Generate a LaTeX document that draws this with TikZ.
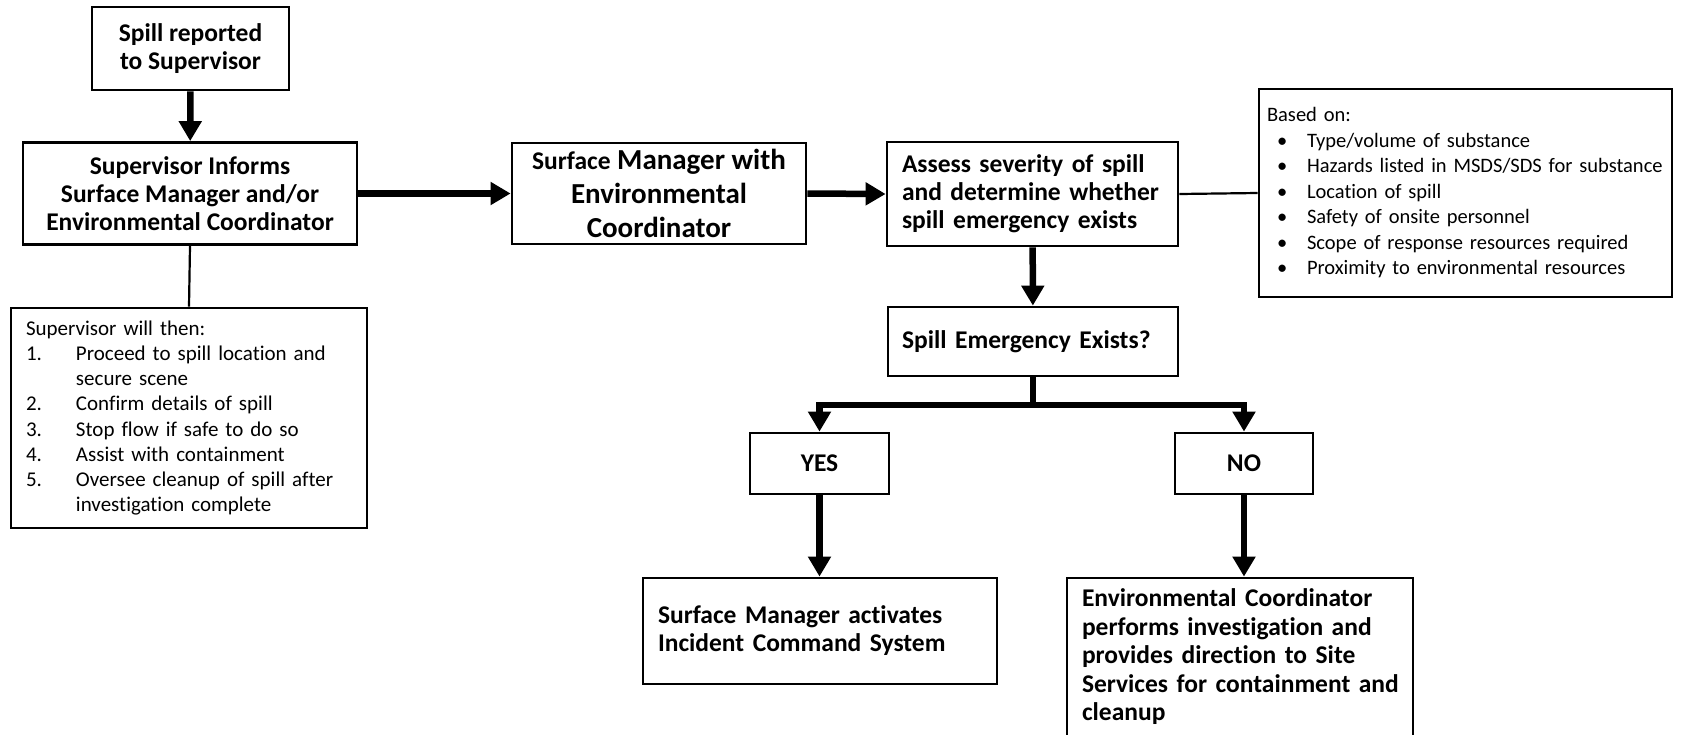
\documentclass[tikz,border=0pt]{standalone}
\usepackage{fontspec}
\setmainfont{Carlito}[Ligatures=NoCommon]
\usetikzlibrary{arrows.meta}

\begin{document}
\begin{tikzpicture}[x=1pt,y=-1pt]
	\tikzstyle{box}=[rectangle,draw=black,line width=2.8pt,inner sep=0pt,font=\fontsize{25.5}{28}\selectfont\bfseries]
	\tikzstyle{leftbox}=[box,align=left,inner xsep=15pt]
	\tikzstyle{notebox}=[leftbox,font=\fontsize{21}{25.1}\selectfont]
	\tikzstyle{flow}=[line width=6.5pt,-{Triangle[length=20pt,width=22pt]}]
	\tikzstyle{link}=[line width=2.2pt]
	\clip (0,0) rectangle (1703,734);
	\node[box,align=center,minimum width=197pt,minimum height=83pt](spill) at (190.5,48.5) {Spill reported\\to Supervisor};
	\node[box,align=center,minimum width=334pt,minimum height=102pt](inform) at (190,193.5) {Supervisor Informs\\Surface Manager and/or\\Environmental Coordinator};
	\node[box,align=center,minimum width=294pt,minimum height=101pt,font=\fontsize{29}{34}\selectfont\bfseries](surfenv) at (659,193.5) {{\fontsize{25.5}{34}\selectfont Surface} Manager with\\Environmental\\Coordinator};
	\node[leftbox,text width=261pt,minimum height=104pt](assess) at (1032.5,194) {Assess severity of spill\\and determine whether\\spill emergency exists};
	\node[notebox,font=\fontsize{20.5}{25.5}\selectfont,inner xsep=8pt,text width=397pt,minimum height=208pt](based) at (1465.5,193) {Based on:\\
		\hspace*{10pt}\makebox[30pt][l]{\textbullet}Type/volume of substance\\
		\hspace*{10pt}\makebox[30pt][l]{\textbullet}Hazards listed in MSDS/SDS for substance\\
		\hspace*{10pt}\makebox[30pt][l]{\textbullet}Location of spill\\
		\hspace*{10pt}\makebox[30pt][l]{\textbullet}Safety of onsite personnel\\
		\hspace*{10pt}\makebox[30pt][l]{\textbullet}Scope of response resources required\\
		\hspace*{10pt}\makebox[30pt][l]{\textbullet}Proximity to environmental resources};
	\node[leftbox,inner xsep=14pt,text width=262pt,minimum height=69pt](emerg) at (1033,341.5) {Spill Emergency Exists?};
	\node[box,minimum width=139pt,minimum height=61pt](yes) at (819.5,463.5) {YES};
	\node[box,minimum width=138pt,minimum height=61pt](no) at (1244,463.5) {NO};
	\node[leftbox,text width=324pt,minimum height=106pt](ics) at (820,631) {Surface Manager activates\\Incident Command System};
	\node[leftbox,text width=316pt,minimum height=158pt,font=\fontsize{25.5}{28.5}\selectfont\bfseries](envcoord) at (1240,657) {Environmental Coordinator\\\mbox{performs investigation and}\\provides direction to Site\\\mbox{Services for containment and}\\cleanup};
	\node[notebox,text width=326pt,minimum height=220pt](supnote) at (189,418) {Supervisor will then:\\
		\makebox[50pt][l]{1.}Proceed to spill location and\\
		\hspace*{50pt}secure scene\\
		\makebox[50pt][l]{2.}Confirm details of spill\\
		\makebox[50pt][l]{3.}Stop flow if safe to do so\\
		\makebox[50pt][l]{4.}Assist with containment\\
		\makebox[50pt][l]{5.}Oversee cleanup of spill after\\
		\hspace*{50pt}investigation complete};
	\coordinate (split) at (1033,405);
	\draw[flow] (spill) -- (inform);
	\draw[flow] (inform.east) -- (surfenv.west);
	\draw[flow] (surfenv.east) -- (assess.west);
	\draw[flow] (assess) -- (emerg);
	\draw[line width=6.5pt] (emerg.south) -- (split);
	\draw[flow] (split) -| (yes.north);
	\draw[flow] (split) -| (no.north);
	\draw[flow] (yes.south) -- (yes.south |- ics.north);
	\draw[flow] (no.south) -- (no.south |- envcoord.north);
	\draw[link] (assess.east) -- (based.west);
	\draw[link] (inform.south) -- (supnote.north);
\end{tikzpicture}
\end{document}
